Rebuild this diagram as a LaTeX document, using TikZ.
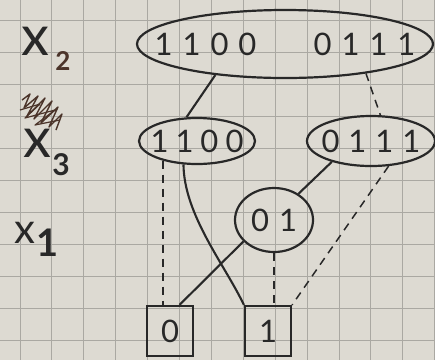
\documentclass[tikz,border=0pt]{standalone}
\usepackage{fontspec}
\setmainfont{Lato}
\usetikzlibrary{calc,shapes.geometric}
\definecolor{paper}{RGB}{221,218,210}
\definecolor{gridc}{RGB}{170,168,162}
\definecolor{ink}{RGB}{40,40,40}
\definecolor{inkbrown}{RGB}{75,52,42}
\newcommand\dd[2][28pt]{\makebox[#1]{#2}}
\begin{document}
\begin{tikzpicture}[x=1pt,y=-1pt,
  every node/.style={inner sep=0pt, text=ink},
  setnode/.style={draw=ink, line width=2.2pt, ellipse, font=\fontsize{31}{31}\selectfont},
  leaf/.style={draw=ink, line width=2.2pt, rectangle, minimum width=46pt, minimum height=50pt, font=\fontsize{31}{31}\selectfont},
  hi/.style={draw=ink, line width=2.1pt},
  lo/.style={draw=ink, line width=1.5pt, dash pattern=on 8pt off 6pt},
  gridline/.style={draw=gridc, line width=0.9pt},
  varx/.style={text=ink},
  sub/.style={text=inkbrown, font=\bfseries\fontsize{26}{26}\selectfont}
]
\fill[paper] (0,0) rectangle (435,360);
\useasboundingbox (0,0) rectangle (435,360);
% grid paper
\foreach \k in {0,...,13} {\draw[gridline] (20+31.9*\k,0) -- (20+31.9*\k,360);}
\foreach \k in {0,...,10} {\draw[gridline] (0,340-32*\k) -- (435,340-32*\k);}

% variable labels
\node[varx, font=\fontsize{56}{56}\selectfont, anchor=base] (lx2) at (35,55) {x};
\node[sub] (s2) at (63,61) {2};
\draw[inkbrown, line width=1.4pt, line join=round]
  (22,100) -- (30,94) -- (24,108) -- (38,96) -- (27,116) -- (45,98) -- (34,119) -- (52,101) -- (41,123) -- (58,107) -- (49,127) -- (62,114) -- (56,130);
\draw[inkbrown, line width=1.2pt, line join=round]
  (20,110) -- (40,104) -- (25,118) -- (55,110) -- (35,125) -- (60,120);
\node[varx, font=\fontsize{56}{56}\selectfont, anchor=base] (lx3) at (37,157) {x};
\node[sub, text=ink, font=\bfseries\fontsize{30}{30}\selectfont] (s3) at (61,165) {3};
\node[varx, font=\fontsize{42}{42}\selectfont, anchor=base] (lx1) at (25,243) {x};
\node[sub, text=ink, font=\bfseries\fontsize{38}{38}\selectfont] (s1) at (48,243) {1};

% nodes
\node[setnode, minimum width=296pt, minimum height=68pt] (top) at (285,44)
  {\makebox[0pt]{\dd1\dd1\dd0\dd0\hspace{47pt}\dd0\dd1\dd1\dd1}};
\node[setnode, minimum width=116pt, minimum height=46pt] (l) at (197,141)
  {\makebox[0pt]{\dd[25pt]1\dd[25pt]1\dd[25pt]0\dd[25pt]0}};
\node[setnode, minimum width=128pt, minimum height=50pt] (r) at (371,141)
  {\makebox[0pt]{\dd[27pt]0\dd[27pt]1\dd[27pt]1\dd[27pt]1}};
\node[setnode, minimum width=78pt, minimum height=64pt] (c) at (274,220)
  {\makebox[0pt]{\raisebox{-8pt}{\dd0\dd1}}};
\node[leaf] (b0) at (170,331) {\raisebox{-3pt}{0}};
\node[leaf] (b1) at (268,331) {\raisebox{-2pt}{1}};

% edges
\draw[hi] (top.204) -- (l.114);
\draw[lo] (top.340) -- (r.70);
\draw[hi] (l.240) .. controls (184,215) and (225,265) .. (b1.north west);
\draw[lo] (l.210) -- (l.210 |- b0.north);
\draw[hi] (r.208) -- (c.47);
\draw[lo] (r.305) -- (b1.north east);
\draw[hi] (c.215) -- (b0.70);
\draw[lo] (c.south) -- (c.south |- b1.north);
\end{tikzpicture}
\end{document}
